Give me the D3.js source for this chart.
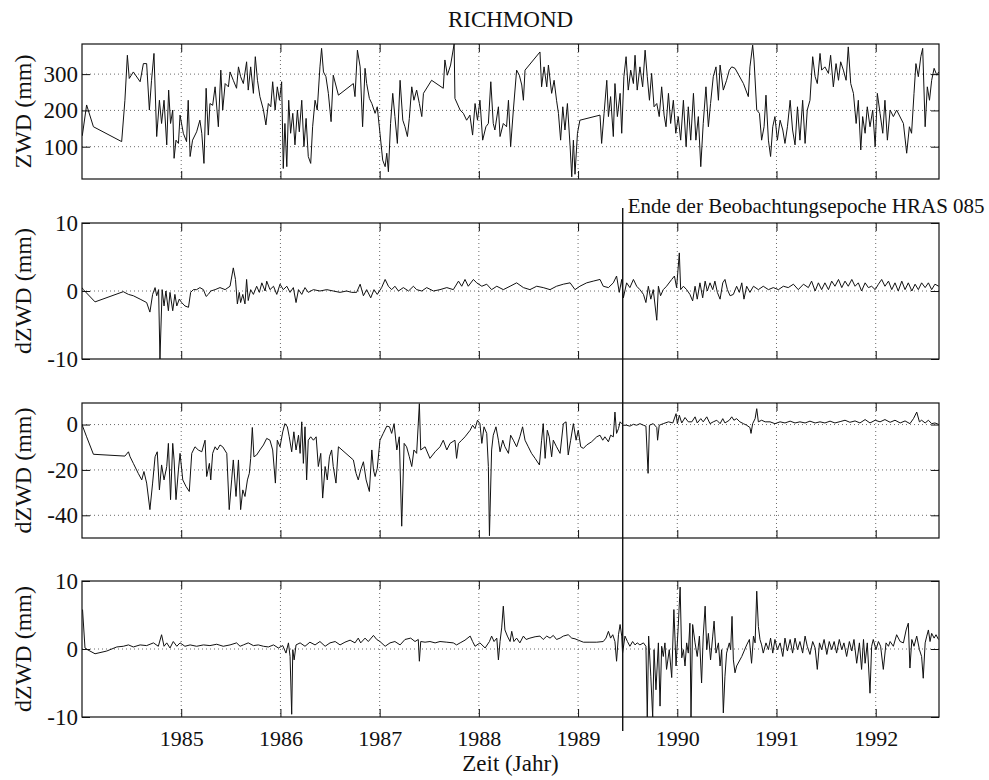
<!DOCTYPE html>
<html>
<head>
<meta charset="utf-8">
<script src="https://cdn.jsdelivr.net/npm/d3@7"></script>
<style>
  body { margin: 0; background: #fff; }
  svg { display: block; }
  text { font-family: "Liberation Serif", "Times New Roman", serif; fill: #111; }
  .grid { stroke: #444; stroke-width: 0.8; stroke-dasharray: 1,3; }
  .frame { fill: none; stroke: #111; stroke-width: 1.2; }
  .series { fill: none; stroke: #111; stroke-width: 1; stroke-linejoin: round; }
</style>
</head>
<body>
<svg id="chart" width="989" height="780"></svg>
<script>
// time is stored as day number since 1984-01-01, values in mm
const zwd = [[1,130],[17,215],[42,155],[146,114],[158,228],[167,352],[174,288],[189,306],[214,279],[226,329],[238,329],[248,201],[256,283],[265,357],[275,128],[285,228],[293,164],[302,228],[312,105],[319,256],[326,164],[334,201],[339,68],[346,118],[355,109],[361,187],[373,137],[385,114],[391,228],[398,73],[407,118],[422,141],[434,173],[441,137],[449,54],[457,261],[465,132],[471,219],[481,214],[490,265],[502,155],[511,311],[518,201],[527,274],[539,265],[545,306],[557,283],[569,261],[576,320],[584,293],[594,274],[606,334],[612,256],[621,320],[631,247],[638,348],[646,283],[655,238],[668,201],[677,160],[686,219],[695,210],[702,279],[711,201],[719,265],[727,228],[735,279],[741,40],[747,164],[754,45],[761,228],[768,137],[776,192],[784,105],[793,201],[800,141],[809,228],[817,100],[825,178],[833,73],[842,54],[849,155],[858,228],[866,201],[876,320],[882,371],[889,306],[898,293],[907,247],[917,169],[925,297],[944,242],[999,274],[1005,238],[1014,366],[1024,320],[1033,155],[1042,316],[1048,274],[1058,233],[1067,219],[1079,192],[1087,210],[1097,137],[1107,63],[1116,45],[1122,82],[1128,31],[1136,164],[1144,247],[1152,183],[1161,109],[1171,283],[1181,173],[1189,155],[1198,128],[1205,178],[1214,265],[1222,228],[1232,256],[1242,219],[1251,183],[1257,247],[1287,283],[1330,261],[1336,339],[1345,297],[1357,325],[1370,383],[1373,233],[1392,201],[1404,192],[1416,173],[1428,187],[1438,132],[1447,219],[1456,173],[1465,228],[1475,118],[1487,155],[1496,164],[1505,279],[1514,164],[1520,146],[1533,210],[1539,128],[1551,164],[1563,155],[1570,228],[1578,100],[1588,201],[1600,311],[1610,297],[1619,270],[1625,228],[1631,311],[1686,361],[1692,265],[1701,320],[1711,265],[1717,325],[1729,247],[1738,283],[1747,228],[1754,192],[1762,118],[1770,210],[1778,146],[1787,219],[1797,100],[1803,17],[1809,118],[1815,24],[1824,137],[1833,173],[1907,187],[1913,109],[1922,192],[1932,283],[1938,183],[1946,238],[1956,128],[1962,274],[1971,183],[1981,247],[1987,137],[1995,293],[2003,348],[2011,256],[2020,311],[2030,274],[2036,352],[2044,256],[2054,320],[2064,265],[2073,366],[2081,293],[2089,228],[2097,302],[2106,210],[2116,219],[2125,183],[2134,265],[2143,187],[2150,155],[2159,247],[2167,164],[2177,228],[2186,137],[2195,183],[2204,118],[2214,228],[2224,100],[2232,210],[2241,118],[2251,247],[2260,118],[2269,183],[2278,45],[2287,164],[2297,265],[2306,155],[2314,219],[2324,293],[2334,320],[2343,228],[2349,325],[2361,256],[2373,283],[2383,311],[2392,320],[2404,316],[2435,274],[2453,238],[2459,320],[2469,380],[2474,339],[2484,201],[2494,192],[2502,118],[2511,155],[2518,242],[2527,118],[2535,73],[2543,155],[2551,183],[2560,118],[2570,173],[2580,146],[2588,109],[2597,155],[2607,228],[2616,146],[2625,105],[2634,210],[2643,118],[2653,228],[2662,109],[2670,201],[2680,228],[2690,348],[2699,293],[2707,274],[2717,357],[2723,311],[2735,320],[2748,302],[2756,352],[2766,265],[2776,329],[2785,283],[2793,334],[2803,311],[2813,283],[2821,375],[2830,274],[2840,247],[2850,164],[2858,228],[2867,91],[2874,183],[2883,137],[2891,210],[2901,155],[2911,201],[2920,100],[2928,247],[2938,192],[2948,137],[2956,228],[2965,118],[2975,201],[2987,183],[2999,201],[3024,164],[3036,82],[3046,155],[3054,137],[3063,247],[3070,329],[3079,293],[3088,348],[3095,371],[3104,155],[3112,265],[3120,228],[3128,283],[3137,316],[3147,297],[3154,306]];

const dzwdA = [[0,0.5],[5,0.2],[48,-1.6],[152,-0.1],[171,-0.5],[189,-0.7],[214,-1.2],[238,-1.7],[250,-3.1],[260,-0.5],[269,0.5],[275,-0.7],[282,0.2],[287,-10],[295,0.2],[302,-2.2],[309,0],[318,-2.9],[324,-0.2],[334,-2.9],[342,-0.5],[349,-2.2],[358,-1.2],[367,-1.7],[379,-2.2],[392,-2.4],[400,-0.2],[410,0.2],[422,0.2],[434,0.5],[447,0.2],[457,-0.8],[465,-0.5],[474,0],[490,0.2],[508,0.5],[527,0.2],[545,0.7],[557,3.4],[565,1.7],[572,-1.9],[579,-0.2],[584,-1.7],[592,-0.5],[600,-1.9],[606,1.7],[612,-1.4],[621,0.2],[631,-0.5],[643,0.7],[653,-0.2],[662,1.2],[674,0],[680,1.45],[692,0.2],[705,0.7],[717,-0.5],[729,1.0],[741,0.2],[754,0.7],[766,-0.2],[778,0.5],[788,-1.7],[797,0.2],[809,-0.5],[821,0.5],[833,-0.2],[852,0.2],[876,0],[901,0.2],[925,0],[950,-0.2],[974,0],[993,-0.2],[1011,-0.2],[1024,1.0],[1036,-0.7],[1048,0.2],[1063,-1.0],[1075,0.2],[1087,-0.5],[1103,0.5],[1116,1.7],[1128,0.7],[1140,0.2],[1152,0.7],[1165,0],[1183,0.5],[1202,0],[1220,0.7],[1232,0.2],[1251,0],[1269,0.5],[1294,0],[1318,0.2],[1343,0.5],[1367,0.2],[1386,1.45],[1398,0.7],[1410,1.7],[1422,0.7],[1441,1.7],[1453,1.2],[1472,0.7],[1490,1.0],[1508,0.2],[1527,0.7],[1551,0.2],[1576,0.7],[1600,1.2],[1625,0.5],[1649,0.2],[1674,0.7],[1698,0.5],[1723,0.2],[1747,0.7],[1772,1.0],[1797,1.2],[1815,0.2],[1833,0.7],[1858,1.2],[1882,1.45],[1907,1.7],[1919,0.7],[1938,0.5],[1956,1.2],[1968,2.2],[1978,-0.2],[1987,1.7],[1993,-1.0],[2005,1.2],[2017,0.5],[2030,1.7],[2042,0.7],[2054,0.2],[2067,-0.5],[2076,-1.7],[2085,0.7],[2094,-1.2],[2103,0.2],[2116,-4.3],[2122,0.7],[2130,-0.7],[2140,0.2],[2152,0.7],[2171,1.7],[2181,2.2],[2189,0.5],[2199,5.6],[2204,0.2],[2214,0.7],[2226,0.2],[2238,-0.5],[2248,-1.45],[2257,0.7],[2265,-1.2],[2275,1.2],[2285,-1.0],[2294,1.45],[2302,0],[2312,1.2],[2322,0.2],[2330,1.45],[2339,-0.2],[2349,-1.2],[2359,1.2],[2367,1.7],[2376,0.2],[2386,-0.7],[2398,-0.5],[2410,0.7],[2420,-0.2],[2429,1.2],[2437,-1.2],[2447,0.7],[2459,-0.2],[2472,0.7],[2490,0.2],[2508,0.7],[2527,0.2],[2545,0.5],[2564,0.2],[2582,0.7],[2600,0.5],[2619,1.0],[2637,0.2],[2656,1.0],[2674,0.5],[2686,1.45],[2699,0],[2711,1.2],[2723,0.2],[2735,1.2],[2748,0.2],[2760,1.45],[2772,0.7],[2785,1.7],[2797,0.5],[2809,1.45],[2821,0.7],[2834,1.7],[2846,0.7],[2858,1.2],[2870,0],[2883,1.2],[2895,0.5],[2907,0.7],[2920,0.2],[2932,1.0],[2944,1.7],[2956,0.7],[2969,1.45],[2981,0.2],[2993,1.2],[3005,0],[3018,1.45],[3030,0.2],[3042,1.2],[3055,0],[3067,1.0],[3079,0.2],[3091,1.2],[3104,0.5],[3116,1.2],[3128,0.2],[3140,1.0],[3154,0.7]];

const dzwdB = [[0,0],[17,-5.4],[42,-13.1],[158,-13.9],[171,-12],[177,-14.2],[189,-17.1],[207,-21.5],[220,-24.4],[228,-20.7],[238,-25.8],[250,-37.5],[260,-25.8],[269,-14.2],[277,-12],[285,-28.8],[293,-17.8],[302,-24.4],[312,-18.5],[318,-8.3],[326,-33.1],[334,-8.3],[339,-15.6],[346,-33.1],[355,-20],[361,-12.7],[371,-24.4],[383,-27.3],[395,-29.5],[404,-12.7],[416,-9.8],[428,-11.2],[441,-12],[453,-6.9],[459,-22.9],[469,-17.1],[474,-24.4],[481,-12.7],[490,-9.8],[498,-11.2],[508,-9],[518,-9.8],[533,-12.7],[542,-37.5],[551,-24.4],[557,-15.6],[567,-31.7],[576,-15.6],[584,-37.5],[592,-28.8],[600,-31.7],[609,-24.4],[616,-21.5],[621,-14.9],[627,-1.3],[633,-14.2],[643,-13.4],[655,-11.2],[668,-9],[680,-6.1],[692,-6.9],[702,-11.2],[712,-25.8],[719,-6.9],[729,-9.8],[739,-3.2],[747,0.4],[756,-1],[763,-5.4],[772,-12],[780,-3.2],[788,-11.2],[797,-4.7],[803,-12.7],[809,1.2],[815,-17.1],[821,-1],[827,-24.4],[833,-6.9],[842,-5.4],[852,-6.9],[862,-5.4],[870,-18.5],[879,-12.7],[886,-32.4],[895,-18.5],[903,-24.4],[911,-14.2],[919,-11.2],[925,-18.5],[935,-25.8],[944,-9.8],[999,-15.6],[1009,-21.5],[1017,-24.4],[1026,-20],[1036,-16.4],[1046,-24.4],[1058,-29.5],[1067,-11.2],[1073,-20],[1079,-22.9],[1087,-19.3],[1097,-6.9],[1109,-3.9],[1122,-0.7],[1132,-1],[1140,-3.9],[1149,0.4],[1159,-11.2],[1168,-5.4],[1177,-44.8],[1186,-8.3],[1195,-9.8],[1205,-14.2],[1214,-18.5],[1222,-11.2],[1232,-12.7],[1242,9.2],[1247,-11.2],[1263,-9.8],[1281,-14.9],[1300,-12],[1318,-9.8],[1330,-6.9],[1343,-11.2],[1355,-8.3],[1373,-6.9],[1379,-14.9],[1386,-8.3],[1398,-6.9],[1410,-5.4],[1429,-2.5],[1438,-0.3],[1447,-1.8],[1456,1.9],[1465,0.4],[1472,-8.3],[1480,-1],[1490,-3.9],[1496,-18.5],[1500,-49],[1508,-11.2],[1514,-4.7],[1524,-1],[1533,-6.9],[1539,-12],[1549,-6.9],[1557,-9.8],[1570,-12.7],[1578,-4.7],[1588,-6.9],[1600,-9.8],[1612,-5.4],[1622,-1],[1631,-6.9],[1643,-9.8],[1655,-12.7],[1668,-14.9],[1684,-17.8],[1692,-6.9],[1698,0.4],[1705,-14.9],[1713,-2.5],[1720,-5.4],[1729,-14.2],[1735,-6.9],[1747,-9.8],[1760,-12.7],[1772,0.4],[1782,1.2],[1790,-13.4],[1799,-6.9],[1809,0.4],[1819,-6.9],[1827,-2.5],[1836,-9.8],[1846,-10.5],[1858,-9],[1876,-7.6],[1895,-5.4],[1907,-4.7],[1917,-6.9],[1925,-5.4],[1938,-7.6],[1946,-4.7],[1956,-5.4],[1962,5.5],[1968,-3.9],[1975,-1.8],[1981,1.2],[1987,0.4],[1993,-0.3],[2005,-0.3],[2017,-0.7],[2030,0.1],[2042,-0.3],[2054,0.4],[2067,-0.3],[2076,-0.7],[2084,-21.5],[2089,-0.3],[2103,0.4],[2116,-1.3],[2119,-6.9],[2125,-0.3],[2140,0.4],[2159,1.2],[2175,0.7],[2187,4.8],[2192,0.4],[2199,4.1],[2208,0.7],[2220,3.1],[2232,1.2],[2245,1.2],[2257,3.4],[2265,0.7],[2278,2.6],[2287,1.2],[2300,3.4],[2312,0.4],[2324,1.2],[2337,1.9],[2349,0.4],[2359,2.6],[2367,0.7],[2383,1.9],[2392,3.4],[2400,1.9],[2410,2.6],[2422,1.2],[2435,0.4],[2447,-0.3],[2459,-1.3],[2463,-3.9],[2469,0.4],[2478,2.6],[2484,7],[2490,1.2],[2502,1.9],[2515,1.2],[2533,1.2],[2551,0.4],[2570,1.2],[2588,0.7],[2607,1.5],[2625,0.7],[2643,1.2],[2662,0.7],[2680,1.5],[2699,0.7],[2717,1.2],[2735,0.7],[2754,1.5],[2772,0.7],[2791,1.3],[2809,1.9],[2827,1.0],[2846,1.6],[2864,0.7],[2883,2.2],[2901,0.7],[2920,1.9],[2938,1.2],[2956,2.2],[2975,1.0],[2993,1.9],[3012,0.7],[3030,1.6],[3048,0.4],[3061,2.6],[3073,5.5],[3083,1.2],[3091,1.9],[3104,0.7],[3116,1.9],[3128,0.4],[3140,0.7],[3153,0.1]];

const dzwdC = [[2,5.8],[11,0.15],[20,-0.1],[48,-0.7],[91,-0.3],[128,0.3],[152,0.4],[171,0.6],[189,0.3],[214,0.6],[238,0.5],[263,0.9],[281,0.4],[293,2.1],[302,0.4],[312,0.9],[324,0.15],[336,1.1],[349,0.4],[361,0.9],[379,0.4],[398,0.6],[422,0.4],[447,0.6],[471,0.5],[496,0.7],[520,0.4],[545,0.6],[569,0.9],[582,0.4],[594,0.6],[612,0.9],[631,0.5],[649,0.6],[668,0.4],[686,0.3],[705,0.6],[723,0.15],[739,0.5],[751,-0.6],[760,0.9],[766,-1.1],[772,-9.6],[776,-0.1],[781,-1.6],[788,0.6],[803,0.9],[821,0.4],[839,1.0],[858,0.6],[876,1.1],[895,0.4],[913,0.9],[932,1.1],[950,0.6],[968,1.0],[987,1.3],[1005,0.9],[1017,1.6],[1026,0.9],[1042,1.6],[1054,1.1],[1073,2.0],[1085,1.4],[1097,1.1],[1116,0.4],[1134,0.9],[1152,1.1],[1171,0.6],[1189,1.4],[1210,1.6],[1226,1.1],[1238,1.4],[1242,-1.8],[1247,1.1],[1263,1.0],[1281,1.1],[1300,0.9],[1318,1.1],[1343,1.0],[1367,0.9],[1379,0.6],[1392,0.9],[1410,1.3],[1429,1.9],[1438,1.1],[1447,0.4],[1465,0.9],[1484,0.15],[1500,1.1],[1508,1.9],[1517,1.1],[1527,1.6],[1533,-1.6],[1539,1.1],[1545,3.1],[1551,6.3],[1557,2.8],[1566,1.9],[1576,1.1],[1582,2.6],[1590,1.1],[1600,1.6],[1612,0.9],[1625,1.9],[1635,1.4],[1649,1.6],[1668,1.8],[1686,1.9],[1698,1.4],[1711,1.9],[1723,1.6],[1735,2.0],[1747,1.4],[1760,1.6],[1772,1.9],[1790,2.1],[1803,1.6],[1815,1.5],[1827,1.3],[1846,1.0],[1870,1.0],[1895,1.0],[1919,1.1],[1929,1.6],[1938,2.6],[1946,1.6],[1954,2.1],[1962,1.1],[1968,-1.8],[1975,2.1],[1981,3.6],[1987,1.9],[1990,-0.6],[1999,1.9],[2008,1.1],[2017,0.4],[2027,1.1],[2036,0.6],[2044,0.9],[2054,0.6],[2067,0.9],[2076,0.4],[2081,-10],[2086,1.9],[2094,-4],[2101,-10],[2106,-0.1],[2113,-6],[2122,0.9],[2128,-8.4],[2134,0.4],[2140,-1.1],[2146,0.9],[2152,-3],[2162,-0.1],[2171,-4.2],[2179,5.8],[2187,-2.5],[2195,3.3],[2202,9.1],[2208,-1.3],[2214,-0.1],[2220,-2.5],[2226,0.9],[2232,-0.6],[2238,3.8],[2242,-10],[2248,3.6],[2257,0.9],[2265,-1.1],[2273,1.9],[2281,-5],[2287,1.9],[2294,6.3],[2300,-0.1],[2306,2.3],[2314,-1.6],[2322,1.9],[2327,4.1],[2334,-0.6],[2343,0.9],[2349,-2.5],[2355,-0.1],[2361,-9.4],[2367,-4],[2373,-0.6],[2383,0.9],[2388,-0.1],[2393,4.8],[2398,-1.6],[2404,-3.5],[2410,-2.5],[2429,-1.1],[2447,0.6],[2457,1.4],[2465,-2.1],[2472,1.9],[2478,0.9],[2484,8.5],[2490,3.3],[2496,1.4],[2502,0.6],[2508,-0.6],[2518,0.9],[2527,-0.1],[2535,1.6],[2543,-0.6],[2551,1.4],[2560,-0.1],[2570,0.9],[2580,-1.1],[2588,1.6],[2597,-0.3],[2607,1.4],[2616,-0.6],[2625,1.6],[2634,-0.1],[2643,1.1],[2653,-0.6],[2662,1.9],[2670,0.4],[2680,-0.8],[2690,1.1],[2699,0.15],[2707,-3],[2715,0.9],[2723,-0.1],[2732,1.4],[2742,-0.8],[2751,1.1],[2760,-0.1],[2769,1.1],[2778,-0.6],[2788,1.4],[2797,-0.1],[2805,0.9],[2815,-1.1],[2825,1.1],[2834,-0.3],[2842,1.4],[2852,-2.1],[2862,0.9],[2870,-3],[2877,1.4],[2883,-2.1],[2891,0.9],[2901,-6.5],[2907,0.4],[2913,1.4],[2923,-0.1],[2932,1.1],[2940,0.4],[2950,-3],[2960,0.9],[2969,0.4],[2975,1.1],[2987,0.4],[2999,2.1],[3012,1.1],[3024,0.9],[3034,2.8],[3042,3.8],[3048,-2.8],[3055,1.4],[3063,0.4],[3073,1.9],[3083,-0.1],[3091,-1.1],[3097,-4.3],[3104,0.9],[3110,1.9],[3116,2.8],[3122,1.1],[3128,2.3],[3137,1.6],[3144,2.1],[3153,1.4]];

const yearTicks = [1985, 1986, 1987, 1988, 1989, 1990, 1991, 1992];
const lastDay = 3155;
const epochEnd = 1989.45;
const epochLabel = "Ende der Beobachtungsepoche HRAS 085";

const toYear = d => 1984 + d / 365.25;
// plain hyphen for negative tick labels
const plain = d => String(d);

const svg = d3.select("#chart");
const left = 82, right = 939;
const x = d3.scaleLinear().domain([1984, toYear(lastDay)]).range([left, right]);

const panels = [
  { data: zwd,   label: "ZWD (mm)",  domain: [11, 383],   ticks: [100, 200, 300], top: 44,  bottom: 179 },
  { data: dzwdA, label: "dZWD (mm)", domain: [-10, 10],   ticks: [-10, 0, 10],    top: 223, bottom: 359 },
  { data: dzwdB, label: "dZWD (mm)", domain: [-50, 9.5],  ticks: [-40, -20, 0],   top: 403, bottom: 538 },
  { data: dzwdC, label: "dZWD (mm)", domain: [-10, 10],   ticks: [-10, 0, 10],    top: 581, bottom: 717 }
];

const styleAxis = size => g => {
  g.select(".domain").remove();
  g.attr("font-size", size).attr("font-family", null).attr("color", "#111");
  g.selectAll(".tick line").attr("stroke-width", 1);
};

panels.forEach((p, i) => {
  const y = d3.scaleLinear().domain(p.domain).range([p.bottom, p.top]);
  const g = svg.append("g");

  // dotted grid
  g.selectAll("line.gx").data(yearTicks).join("line")
    .attr("class", "grid")
    .attr("x1", d => x(d)).attr("x2", d => x(d))
    .attr("y1", p.top).attr("y2", p.bottom);
  g.selectAll("line.gy").data(p.ticks.filter(t => y(t) > p.top + 1 && y(t) < p.bottom - 1)).join("line")
    .attr("class", "grid")
    .attr("x1", left).attr("x2", right)
    .attr("y1", d => y(d)).attr("y2", d => y(d));

  // series
  const clipId = "clip" + i;
  g.append("clipPath").attr("id", clipId).append("rect")
    .attr("x", left).attr("y", p.top).attr("width", right - left).attr("height", p.bottom - p.top);
  const line = d3.line().x(d => x(toYear(d[0]))).y(d => y(d[1]));
  g.append("path").datum(p.data)
    .attr("class", "series")
    .attr("clip-path", `url(#${clipId})`)
    .attr("d", line);

  // ticks on all four sides, pointing inwards
  const isLast = i === panels.length - 1;
  g.append("g").attr("transform", `translate(0,${p.bottom})`)
    .call(d3.axisBottom(x).tickValues(yearTicks).tickSizeInner(-8).tickSizeOuter(0)
      .tickPadding(13).tickFormat(isLast ? plain : () => ""))
    .call(styleAxis(22));
  g.append("g").attr("transform", `translate(0,${p.top})`)
    .call(d3.axisTop(x).tickValues(yearTicks).tickSizeInner(-8).tickSizeOuter(0).tickFormat(() => ""))
    .call(styleAxis(22));
  g.append("g").attr("transform", `translate(${left},0)`)
    .call(d3.axisLeft(y).tickValues(p.ticks).tickSizeInner(-8).tickSizeOuter(0).tickPadding(4).tickFormat(plain))
    .call(styleAxis(23));
  g.append("g").attr("transform", `translate(${right},0)`)
    .call(d3.axisRight(y).tickValues(p.ticks).tickSizeInner(-8).tickSizeOuter(0).tickFormat(() => ""))
    .call(styleAxis(23));

  g.append("rect").attr("class", "frame")
    .attr("x", left).attr("y", p.top).attr("width", right - left).attr("height", p.bottom - p.top);

  svg.append("text")
    .attr("transform", `translate(31,${(p.top + p.bottom) / 2}) rotate(-90)`)
    .attr("text-anchor", "middle")
    .attr("font-size", 24)
    .text(p.label);
});

// end of the HRAS 085 observation epoch
svg.append("line")
  .attr("x1", x(epochEnd)).attr("x2", x(epochEnd))
  .attr("y1", 208).attr("y2", 731)
  .attr("stroke", "#111").attr("stroke-width", 1.4);
svg.append("text")
  .attr("x", x(epochEnd) + 5).attr("y", 213)
  .attr("font-size", 21)
  .text(epochLabel);

svg.append("text")
  .attr("x", (left + right) / 2).attr("y", 27)
  .attr("text-anchor", "middle")
  .attr("font-size", 23)
  .text("RICHMOND");

svg.append("text")
  .attr("x", (left + right) / 2).attr("y", 771)
  .attr("text-anchor", "middle")
  .attr("font-size", 23)
  .text("Zeit (Jahr)");
</script>
</body>
</html>
